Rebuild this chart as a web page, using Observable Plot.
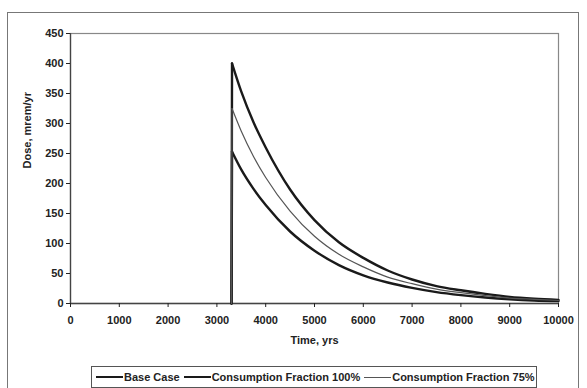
<!DOCTYPE html>
<html>
<head>
<meta charset="utf-8">
<script src="https://cdn.jsdelivr.net/npm/d3@7"></script>
<script src="https://cdn.jsdelivr.net/npm/@observablehq/plot@0.6"></script>
<style>
  body { margin: 0; background: #fff; font-family: "Liberation Sans", Arial, sans-serif; }
  #wrap { position: relative; width: 587px; height: 388px; overflow: hidden; background: #fff; }
  #outer { position: absolute; left: 7px; top: 12px; width: 572px; height: 390px; border: 1.5px solid #777; box-sizing: border-box; }
  #chart { position: absolute; left: 0; top: 0; }
  #legend { position: absolute; left: 91px; top: 366px; width: 446px; height: 22px; border: 1.2px solid #555; box-sizing: border-box;
    display: flex; align-items: center; font-size: 11px; font-weight: bold; color: #222; white-space: nowrap; }
  .item { display: flex; align-items: center; }
  .sw { display: inline-block; width: 27px; margin: 0 1px 0 4px; }
</style>
</head>
<body>
<div id="wrap">
  <div id="outer"></div>
  <div id="chart"></div>
  <div id="legend"></div>
</div>
<script>
// Time axis (years)
const time  = [3300, 3310, 3500, 3750, 4000, 4500, 5000, 5500, 6000, 6500, 7000, 7500, 8000, 8500, 9000, 9500, 10000];
// Dose series (mrem/yr)
const base  = [0, 253, 223, 191, 164, 120, 88, 64, 47, 35, 26, 19, 14, 10, 7, 5, 4];
const cf100 = [0, 400, 353, 302, 260, 190, 139, 102, 76, 55, 40, 29, 22, 16, 11, 8, 6];
const cf75  = [0, 325, 287, 245, 210, 154, 112, 82, 61, 44, 33, 24, 18, 13, 9, 7, 5];
const seriesNames = ["Base Case", "Consumption Fraction 100%", "Consumption Fraction 75%"];
const xTicks = [0, 1000, 2000, 3000, 4000, 5000, 6000, 7000, 8000, 9000, 10000];
const yTicks = [0, 50, 100, 150, 200, 250, 300, 350, 400, 450];

const styles = {
  "Base Case": {stroke: "#1a1a1a", width: 2.4},
  "Consumption Fraction 100%": {stroke: "#1a1a1a", width: 2.4},
  "Consumption Fraction 75%": {stroke: "#555", width: 1.2}
};

const seriesVals = [base, cf100, cf75];
const rows = [];
seriesNames.forEach((name, si) => {
  time.forEach((t, i) => rows.push({series: name, t, v: seriesVals[si][i], i}));
});
const rise = rows.filter(d => d.i <= 1);
const decay = rows.filter(d => d.i >= 1);

const marks = [
  Plot.frame({stroke: "#888", strokeWidth: 1.2}),
  Plot.ruleX([0], {stroke: "#444", strokeWidth: 1.3}),
  Plot.ruleY([0], {stroke: "#444", strokeWidth: 1.3}),
  Plot.axisY({ticks: yTicks, tickSize: 4, tickPadding: 3, label: null, fontSize: 11, fontWeight: "bold"}),
  Plot.axisX({ticks: xTicks, tickSize: 4, tickPadding: 9, label: null, tickFormat: d => String(d), fontSize: 11, fontWeight: "bold"})
];
seriesNames.forEach(name => {
  const s = styles[name];
  marks.push(Plot.line(rise.filter(d => d.series === name), {x: "t", y: "v", stroke: s.stroke, strokeWidth: s.width}));
  marks.push(Plot.line(decay.filter(d => d.series === name), {x: "t", y: "v", stroke: s.stroke, strokeWidth: s.width, curve: "monotone-x"}));
});
marks.push(Plot.text(["Dose, mrem/yr"], {frameAnchor: "left", dx: -43, rotate: -90, fontSize: 11, fontWeight: "bold", fill: "#222"}));
marks.push(Plot.text(["Time, yrs"], {frameAnchor: "bottom", dy: 40, fontSize: 11, fontWeight: "bold", fill: "#222"}));

const chart = Plot.plot({
  width: 587,
  height: 360,
  marginLeft: 70,
  marginRight: 29,
  marginTop: 33,
  marginBottom: 57,
  style: {background: "transparent", fontFamily: "'Liberation Sans', Arial, sans-serif", color: "#222", overflow: "visible"},
  x: {domain: [0, 10000]},
  y: {domain: [0, 450]},
  marks
});
document.getElementById("chart").appendChild(chart);

const legend = document.getElementById("legend");
seriesNames.forEach(name => {
  const s = styles[name];
  const item = document.createElement("span");
  item.className = "item";
  const sw = document.createElement("span");
  sw.className = "sw";
  sw.style.borderTop = `${s.width}px solid ${s.stroke}`;
  item.appendChild(sw);
  const tx = document.createElement("span");
  tx.textContent = name;
  item.appendChild(tx);
  legend.appendChild(item);
});
</script>
</body>
</html>
